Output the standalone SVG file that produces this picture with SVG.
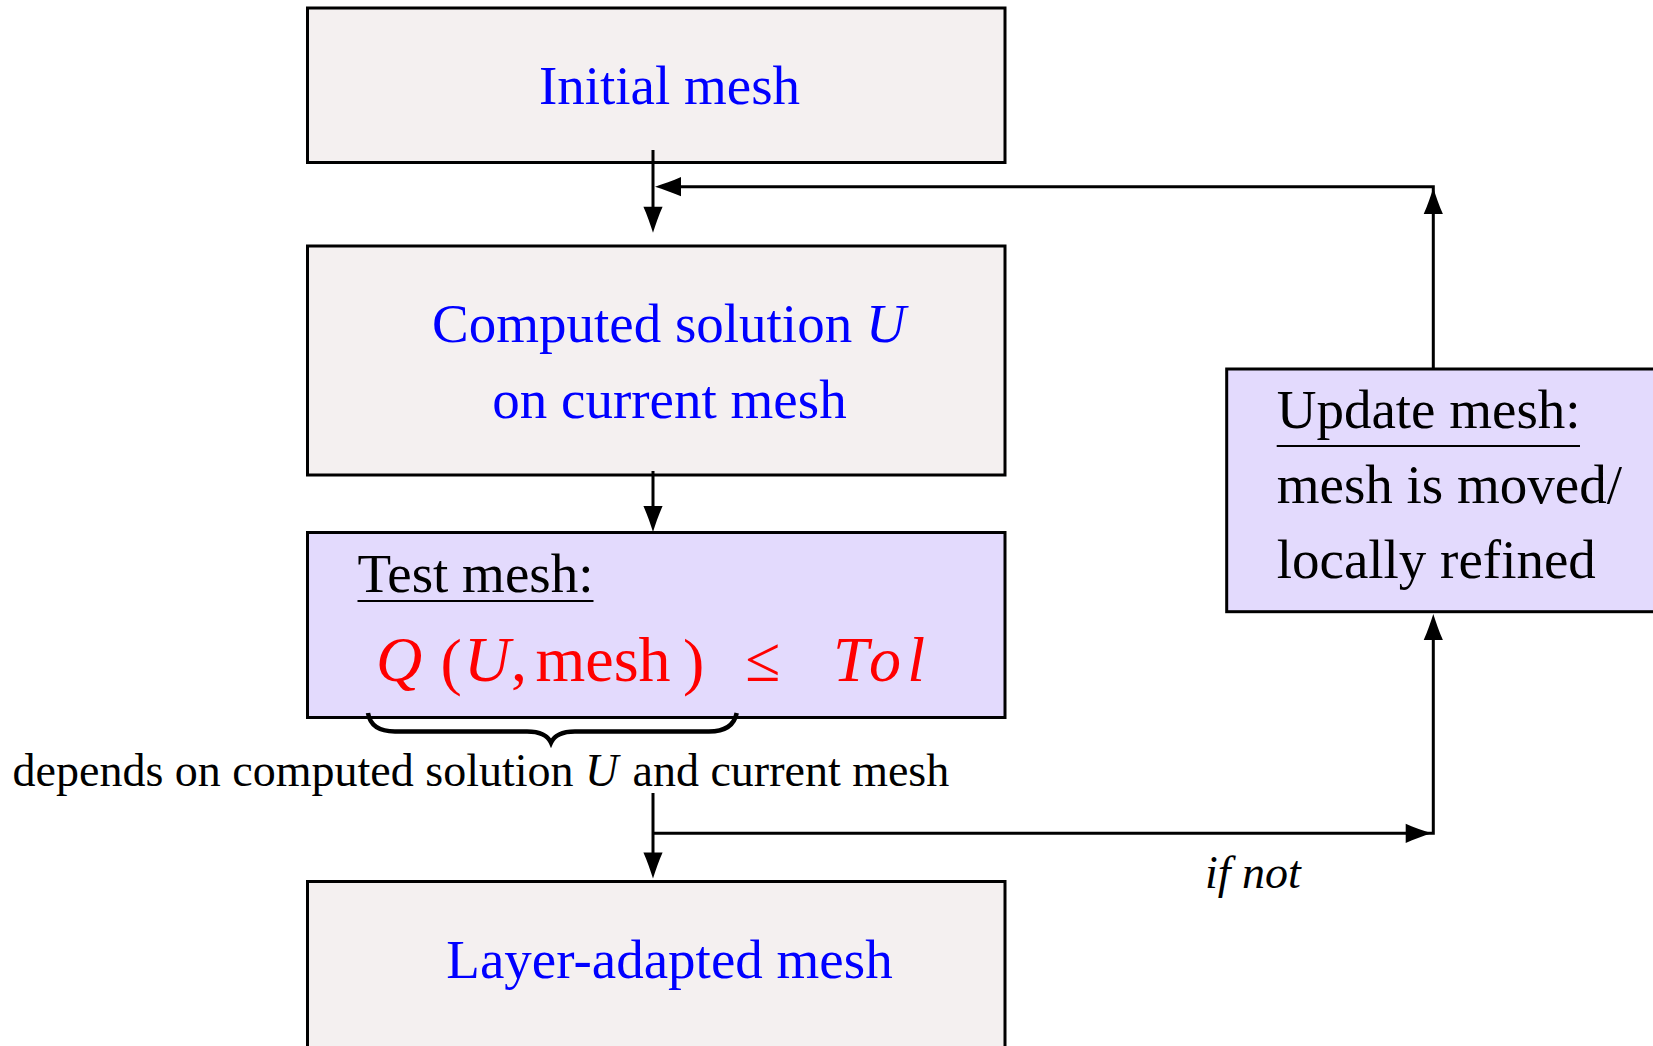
<svg xmlns="http://www.w3.org/2000/svg" xmlns:xlink="http://www.w3.org/1999/xlink" width="1653" height="1046" viewBox="0 0 1653 1046">
  <style>
    .box { stroke: #000; stroke-width: 3; }
    .plain { fill: #f4f0f0; }
    .test { fill: #e3dafd; }
    .conn { fill: none; stroke: #000; stroke-width: 3; stroke-linejoin: miter; }
    .lbl { font-family: "Liberation Serif", "Times New Roman", serif; font-size: 55px; }
    .blue { fill: #0000ff; }
    .black { fill: #000; }
    .math { font-family: "Liberation Serif", "Times New Roman", serif; font-size: 64px; fill: #ff0000; }
    .note { font-family: "Liberation Serif", "Times New Roman", serif; font-size: 46px; fill: #000; }
    .it { font-style: italic; }
    .ul { stroke: #000; stroke-width: 2; }
  </style>
  <defs>
    <!-- arrowhead, tip at origin, pointing along +x -->
    <path id="ah" d="M0,0 C-8,-2.5 -18,-6 -26,-9.6 L-26,9.6 C-18,6 -8,2.5 0,0 Z" fill="#000"/>
  </defs>

  <rect width="1653" height="1046" fill="#fff"/>

  <g id="initial-mesh">
    <rect class="box plain" x="307.5" y="8" width="697.5" height="154.5"/>
    <text class="lbl blue" x="669.5" y="104" text-anchor="middle">Initial mesh</text>
  </g>

  <g id="computed-solution">
    <rect class="box plain" x="307.5" y="246" width="697.5" height="229"/>
    <text class="lbl blue" x="432" y="342">Computed solution</text>
    <text class="lbl blue it" x="866" y="342">U</text>
    <text class="lbl blue" x="669.5" y="418" text-anchor="middle">on current mesh</text>
  </g>

  <g id="test-mesh">
    <rect class="box test" x="307.5" y="532.5" width="697.5" height="185"/>
    <text class="lbl black" x="357.5" y="591.5">Test mesh:</text>
    <line class="ul" x1="357.5" y1="601" x2="593.5" y2="601"/>
    <!-- quality test: Q(U, mesh) <= Tol -->
    <text class="math it" x="376" y="681">Q</text>
    <text class="math" x="440.6" y="683" font-size="70">(</text>
    <text class="math it" x="464" y="681">U</text>
    <text class="math" x="511" y="681">,</text>
    <text class="math" x="535.5" y="681">mesh</text>
    <text class="math" x="683" y="683" font-size="70">)</text>
    <text class="math" x="745" y="681">≤</text>
    <text class="math it" x="833" y="681" textLength="92" lengthAdjust="spacing">Tol</text>
  </g>

  <g id="layer-adapted-mesh">
    <rect class="box plain" x="307.5" y="881.5" width="697.5" height="180"/>
    <text class="lbl blue" x="669.5" y="978" text-anchor="middle">Layer-adapted mesh</text>
  </g>

  <g id="update-mesh">
    <rect class="box test" x="1226.7" y="369" width="440" height="242.7"/>
    <text class="lbl black" x="1276.7" y="428">Update mesh:</text>
    <line class="ul" x1="1276.7" y1="446" x2="1580" y2="446"/>
    <text class="lbl black" x="1276.7" y="503">mesh is moved/</text>
    <text class="lbl black" x="1276.7" y="578">locally refined</text>
  </g>

  <g id="brace-note">
    <path d="M368,713 Q371,731.5 395,731.5 L527,731.5 Q546,731.5 551,742.7 Q556,731.5 575,731.5 L709,731.5 Q733,731.5 736.7,713" fill="none" stroke="#000" stroke-width="4.5"/>
    <text class="note" x="12.6" y="786">depends on computed solution</text>
    <text class="note it" x="585" y="786">U</text>
    <text class="note" x="632.5" y="786">and current mesh</text>
  </g>

  <g id="connectors">
    <path class="conn" d="M653,150 V222"/>
    <use xlink:href="#ah" transform="translate(653,232.7) rotate(90)"/>

    <path class="conn" d="M1433.3,369 V186.7 H665"/>
    <use xlink:href="#ah" transform="translate(1433.3,188) rotate(-90)"/>
    <use xlink:href="#ah" transform="translate(655,186.7) rotate(180)"/>

    <path class="conn" d="M653,471 V522"/>
    <use xlink:href="#ah" transform="translate(653,532) rotate(90)"/>

    <path class="conn" d="M653,793 V868"/>
    <use xlink:href="#ah" transform="translate(653,878.5) rotate(90)"/>

    <path class="conn" d="M653,833.3 H1433.3 V624"/>
    <use xlink:href="#ah" transform="translate(1431.7,833.3)"/>
    <use xlink:href="#ah" transform="translate(1433.3,614) rotate(-90)"/>

    <text class="note it" x="1205" y="887.6">if not</text>
  </g>
</svg>
